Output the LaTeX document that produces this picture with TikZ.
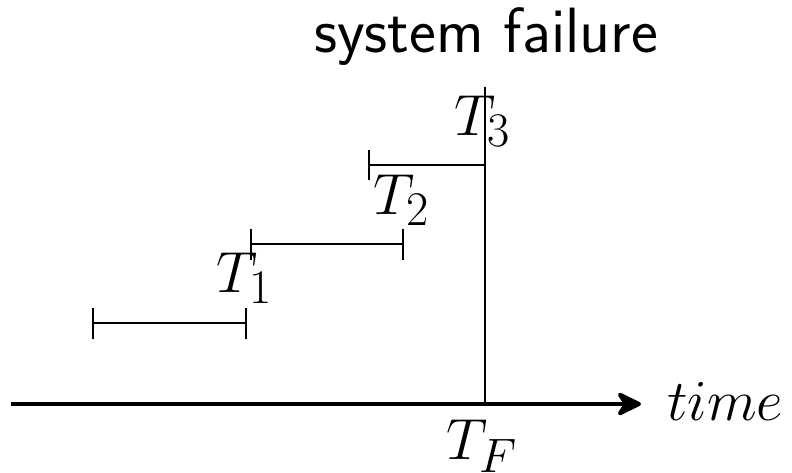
\RequirePackage{fix-cm}
\documentclass[tikz,border=0pt]{standalone}
\usetikzlibrary{arrows.meta}
\DeclareMathSizes{58}{58}{48.3}{40.3}
\begin{document}
\begin{tikzpicture}[x=1pt,y=-1pt,
  lbl/.style={inner sep=0pt,font=\fontsize{58}{64}\selectfont},
  sflbl/.style={inner sep=0pt,font=\fontsize{64}{70}\selectfont\sffamily},
  interval/.style={line width=2pt,{Bar[width=31pt,line width=2pt]}-{Bar[width=31pt,line width=2pt]}},
  axis/.style={line width=4pt,-{Stealth[length=29pt,width=28pt,inset=9pt,round]}},
  thin/.style={line width=2pt}]
\useasboundingbox (0,0) rectangle (792,472);
% axis
\coordinate (a0) at (11,404);
\coordinate (a1) at (641,404);
\draw[axis] (a0) -- (a1);
\node[lbl,anchor=base west] (time) at (667,420) {$time$};
% failure line
\coordinate (f0) at (485,404);
\coordinate (f1) at (485,87);
\draw[thin] (f0) -- (f1);
\node[lbl,anchor=base west] (TF) at (446,459) {$T_F$};
\node[sflbl,anchor=base] (sf) at (486,52) {system failure};
% intervals
\coordinate (i1a) at (92,323);
\coordinate (i1b) at (247,323);
\draw[interval] (i1a) -- (i1b);
\coordinate (i2a) at (250,244);
\coordinate (i2b) at (404,244);
\draw[interval] (i2a) -- (i2b);
\coordinate (i3a) at (368,165);
\coordinate (i3b) at (485,165);
\draw[line width=2pt,{Bar[width=30pt,line width=2pt]}-] (i3a) -- (i3b);
\node[lbl,anchor=base west] (T1) at (216,292) {$T_1$};
\node[lbl,anchor=base west] (T2) at (373,214) {$T_2$};
\node[lbl,anchor=base west] (T3) at (454,135) {$T_3$};
\end{tikzpicture}
\end{document}
